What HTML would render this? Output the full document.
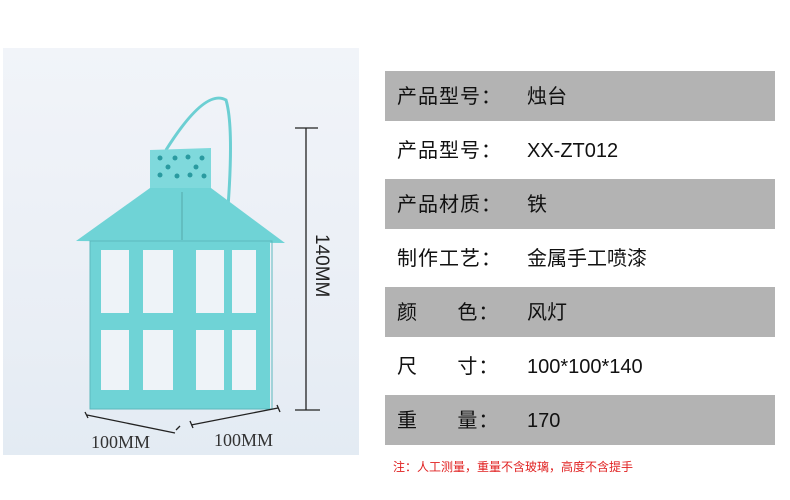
<!DOCTYPE html>
<html><head><meta charset="utf-8"><style>
body{margin:0;width:790px;height:500px;background:#fff;position:relative;overflow:hidden;font-family:"Liberation Sans","Noto Sans CJK SC",sans-serif}
.photo{position:absolute;left:3px;top:48px;width:356px;height:407px;background:linear-gradient(#f1f4f9,#e9eef5 70%,#e3ebf3)}
.row{position:absolute;left:385px;width:390px;height:50px;font-size:20px;color:#111;line-height:52px}
.g{background:#b3b3b3}
.row span{position:absolute}
.l{left:12px;letter-spacing:1px}
.v{left:142px}
.note{position:absolute;left:393px;top:458px;font-size:12px;color:#e02020}
</style></head><body>
<div class="photo"></div>
<svg style="position:absolute;left:0;top:0" width="380" height="500">
<path d="M166 150 Q205 88 226 100 Q235 130 226 232" fill="none" stroke="#6ccfd3" stroke-width="3"/>
<polygon points="150,150 211,148 211,188 150,188" fill="#7fd9dc"/>
<g fill="#2a9aa0"><circle cx="160" cy="158" r="2.5"/><circle cx="175" cy="158" r="2.5"/><circle cx="188" cy="157" r="2.5"/><circle cx="202" cy="158" r="2.5"/><circle cx="168" cy="167" r="2.5"/><circle cx="196" cy="167" r="2.5"/><circle cx="160" cy="175" r="2.5"/><circle cx="177" cy="176" r="2.5"/><circle cx="190" cy="175" r="2.5"/><circle cx="204" cy="176" r="2.5"/></g>
<polygon points="150,188 211,188 285,243 76,241" fill="#6fd3d6"/>
<line x1="182" y1="192" x2="182" y2="240" stroke="#5aa" stroke-width="1"/>
<rect x="90" y="241" width="180" height="168" fill="#6fd3d6"/>
<rect x="90" y="241" width="182" height="168" fill="none" stroke="#5cb8bd" stroke-width="1"/>
<g fill="#eef3f8">
<rect x="101" y="250" width="28" height="63"/><rect x="143" y="250" width="30" height="63"/>
<rect x="196" y="250" width="28" height="63"/><rect x="232" y="250" width="24" height="63"/>
<rect x="101" y="330" width="28" height="60"/><rect x="143" y="330" width="30" height="60"/>
<rect x="196" y="330" width="28" height="60"/><rect x="232" y="330" width="24" height="60"/>
</g>
<g stroke="#222" stroke-width="1.3" fill="none">
<line x1="306" y1="128" x2="306" y2="410"/><line x1="295" y1="128" x2="318" y2="128"/><line x1="295" y1="410" x2="320" y2="410"/>
<path d="M87 415 L175 433 M85 412 L88 418 M176 430 L180 426"/>
<path d="M191 425 L278 408 M190 421 L193 428 M277 405 L280 412"/>
</g>
<text x="0" y="0" transform="translate(316,234) rotate(90)" font-family="Liberation Sans" font-size="19" fill="#222">140MM</text>
<text x="91" y="448" font-family="Liberation Serif" font-size="18" fill="#333">100MM</text>
<text x="214" y="446" font-family="Liberation Serif" font-size="18" fill="#333">100MM</text>
</svg>
<div class="row g" style="top:71px"><span class="l">产品型号：</span><span class="v">烛台</span></div>
<div class="row" style="top:125px"><span class="l">产品型号：</span><span class="v">XX-ZT012</span></div>
<div class="row g" style="top:179px"><span class="l">产品材质：</span><span class="v">铁</span></div>
<div class="row" style="top:233px"><span class="l">制作工艺：</span><span class="v">金属手工喷漆</span></div>
<div class="row g" style="top:287px"><span class="l">颜&nbsp;&nbsp;&nbsp;&nbsp;&nbsp;&nbsp;色：</span><span class="v">风灯</span></div>
<div class="row" style="top:341px"><span class="l">尺&nbsp;&nbsp;&nbsp;&nbsp;&nbsp;&nbsp;寸：</span><span class="v">100*100*140</span></div>
<div class="row g" style="top:395px"><span class="l">重&nbsp;&nbsp;&nbsp;&nbsp;&nbsp;&nbsp;量：</span><span class="v">170</span></div>
<div class="note">注：人工测量，重量不含玻璃，高度不含提手</div>
</body></html>
